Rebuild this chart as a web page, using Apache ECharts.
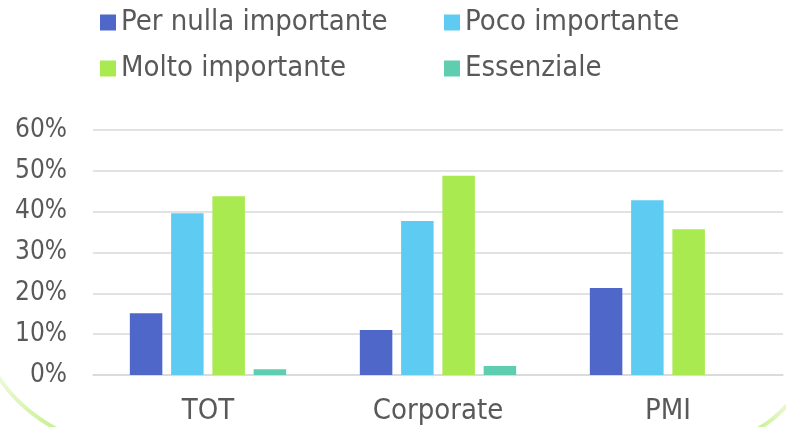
<!DOCTYPE html>
<html>
<head>
<meta charset="utf-8">
<script src="https://cdn.jsdelivr.net/npm/echarts@6/dist/echarts.min.js"></script>
<style>
html,body{margin:0;padding:0;background:#fff;}
#chart{width:786px;height:427px;}
</style>
</head>
<body>
<div id="chart"></div>
<script>
const categories = ['TOT', 'Corporate', 'PMI'];
const seriesNames = ['Per nulla importante', 'Poco importante', 'Molto importante', 'Essenziale'];
const perNulla = [15.1, 11.0, 21.3];
const poco = [39.6, 37.7, 42.8];
const molto = [43.8, 48.8, 35.7];
const essenziale = [1.4, 2.2, 0];
const yTicks = [0, 10, 20, 30, 40, 50, 60];

const colors = ['#4F67C8', '#5ECCF2', '#A9EA50', '#5ECDB0'];
const values = [perNulla, poco, molto, essenziale];
const font = 'DejaVu Sans Condensed, DejaVu Sans, sans-serif';
const textColor = '#595959';

const legendPos = [[100, 8], [444, 8], [100, 54], [444, 54]];

const chart = echarts.init(document.getElementById('chart'), null, {renderer: 'canvas'});
chart.setOption({
  animation: false,
  backgroundColor: '#fff',
  legend: seriesNames.map((n, i) => ({
    data: [n],
    left: legendPos[i][0],
    top: legendPos[i][1],
    itemWidth: 16,
    itemHeight: 16,
    itemGap: 6,
    padding: 0,
    icon: 'rect',
    selectedMode: false,
    textStyle: {fontFamily: font, fontSize: 29, color: textColor}
  })),
  grid: {left: 93, right: 3, top: 130, bottom: 52, containLabel: false},
  xAxis: {
    type: 'category',
    data: categories,
    axisLine: {show: true, lineStyle: {color: '#D9D9D9', width: 1.5}},
    axisTick: {show: false},
    axisLabel: {fontFamily: font, fontSize: 29, color: textColor, margin: 22}
  },
  yAxis: {
    type: 'value',
    min: yTicks[0],
    max: yTicks[yTicks.length - 1],
    interval: 10,
    axisLine: {show: false},
    axisTick: {show: false},
    splitLine: {lineStyle: {color: '#D9D9D9', width: 1.5}},
    axisLabel: {fontFamily: font, fontSize: 26, color: textColor, margin: 26, formatter: v => v + '%'}
  },
  graphic: [
    {type: 'bezierCurve', silent: true, z: -1,
     shape: {x1: -2, y1: 376, x2: 58, y2: 430, cpx1: 18, cpy1: 408},
     style: {stroke: {type: 'linear', x: 0, y: 0, x2: 1, y2: 1, colorStops: [{offset: 0, color: '#EEFBDD'}, {offset: 1, color: '#C6EF8A'}]}, lineWidth: 4, fill: null}},
    {type: 'bezierCurve', silent: true, z: -1,
     shape: {x1: 756, y1: 430, x2: 790, y2: 402, cpx1: 775, cpy1: 420},
     style: {stroke: {type: 'linear', x: 0, y: 1, x2: 1, y2: 0, colorStops: [{offset: 0, color: '#C6EF8A'}, {offset: 1, color: '#EEFBDD'}]}, lineWidth: 4, fill: null}}
  ],
  series: seriesNames.map((n, i) => ({
    name: n,
    type: 'bar',
    data: values[i],
    barWidth: 32.5,
    barGap: '27%',
    itemStyle: {color: colors[i]}
  }))
});
</script>
</body>
</html>
